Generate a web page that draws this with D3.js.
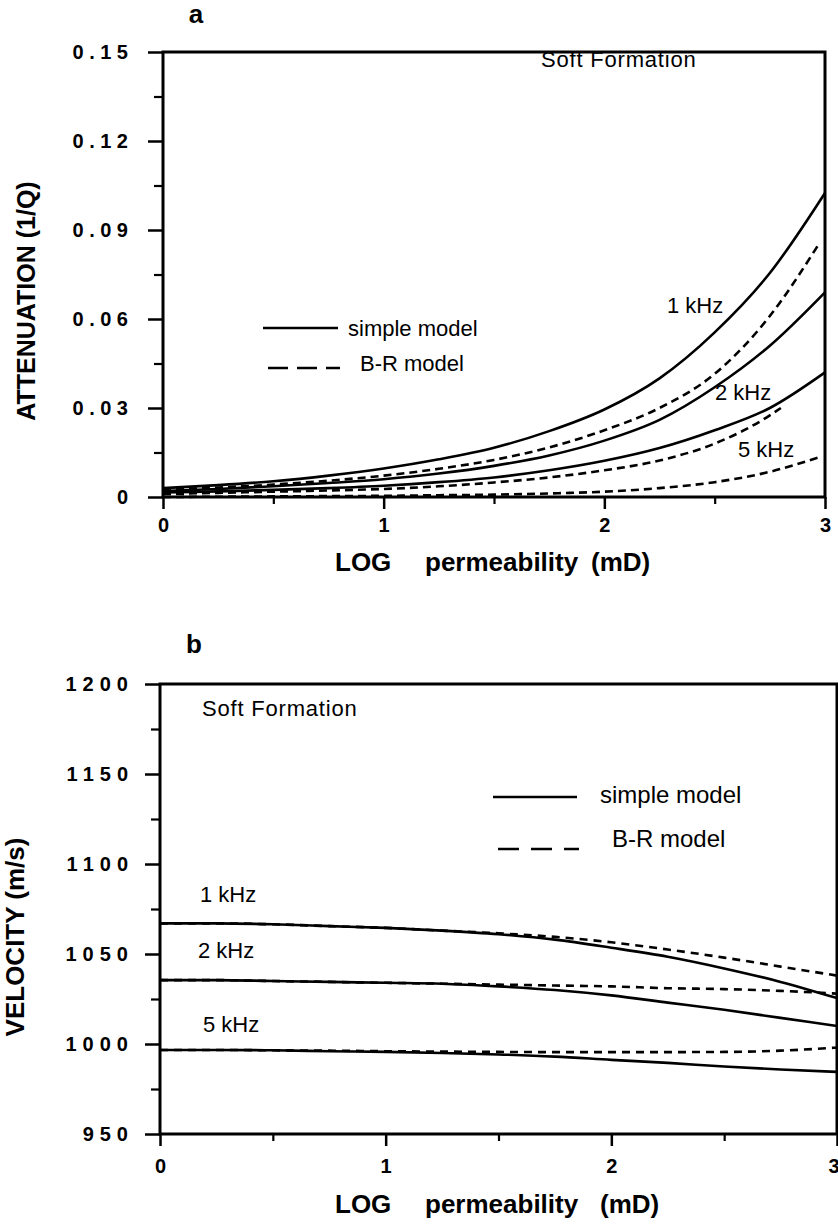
<!DOCTYPE html>
<html><head><meta charset="utf-8">
<script src="https://cdn.jsdelivr.net/npm/d3@7"></script>
<style>
body{margin:0;background:#fff}
svg{display:block;background:#fff}
text{font-family:"Liberation Sans",Arial,Helvetica,sans-serif;fill:#000}
</style></head><body>
<svg id="chart" width="838" height="1227"></svg>
<script>
// log10 permeability (mD) sample points
const logPerm     = [0,0.25,0.5,0.75,1,1.25,1.5,1.75,2,2.25,2.5,2.75,3];
const logPermBR1k = [0,0.25,0.5,0.75,1,1.25,1.5,1.75,2,2.25,2.5,2.75,2.97];
const logPermBR2k = [0,0.25,0.5,0.75,1,1.25,1.5,1.75,2,2.25,2.5,2.75,2.8];
const logPermBR5k = [0,0.25,0.5,0.75,1,1.25,1.5,1.75,2,2.25,2.5,2.75,2.97];

// (a) attenuation 1/Q
const attn1kSimple = [0.003,0.004,0.0053,0.0072,0.0096,0.0127,0.0166,0.0222,0.0295,0.040,0.0555,0.0755,0.1025];
const attn1kBR     = [0.0025,0.0032,0.0042,0.0055,0.0072,0.0095,0.0125,0.0167,0.0225,0.030,0.0415,0.061,0.085];
const attn2kSimple = [0.002,0.0027,0.0036,0.0047,0.006,0.0079,0.0105,0.014,0.019,0.026,0.037,0.051,0.069];
const attn2kBR     = [0.001,0.0014,0.0018,0.0022,0.0027,0.0036,0.0049,0.0066,0.009,0.0123,0.018,0.0275,0.030];
const attn5kSimple = [0.0015,0.0019,0.0024,0.003,0.0038,0.005,0.0066,0.009,0.0122,0.0165,0.0225,0.030,0.042];
const attn5kBR     = [0,0.0001,0.0002,0.0003,0.0004,0.0006,0.0008,0.0012,0.0018,0.003,0.005,0.0085,0.0133];

// (b) velocity m/s
const vel1kSimple = [1067,1067,1066.5,1065.5,1064.5,1063,1061,1058,1053.5,1048.5,1042,1034.5,1025.5];
const vel1kBR     = [1067,1067,1066.5,1065.5,1064.5,1063,1061.5,1059.5,1056.5,1052.5,1048,1043,1038];
const vel2kSimple = [1035.5,1035.5,1035,1034.5,1034,1033.5,1032,1030,1027,1023,1019,1014.5,1010];
const vel2kBR     = [1035.5,1035.5,1035,1034.5,1034,1033.5,1033,1032.5,1032,1031,1030.5,1029.5,1028];
const vel5kSimple = [996.7,996.7,996.5,996,995.6,995,994.2,993,991.2,989.5,987.5,985.8,984.5];
const vel5kBR     = [996.7,996.7,996.5,996.3,996,995.8,995.6,995.5,995.5,995.5,995.6,996.3,998];

// axis ticks
const xTicks = [0,1,2,3];
const xMinor = [0.5,1.5,2.5];
const attnTicks = [0,0.03,0.06,0.09,0.12,0.15];
const attnMinor = [0.015,0.045,0.075,0.105,0.135];
const velTicks = [950,1000,1050,1100,1150,1200];
const velMinor = [975,1025,1075,1125,1175];

const svg = d3.select("#chart");
const zip = (xs, ys) => xs.map((v,i) => [v, ys[i]]);

function panel(o){
  const g = svg.append("g");
  const x = d3.scaleLinear().domain([0,3]).range(o.xr);
  const y = d3.scaleLinear().domain(o.yd).range(o.yr);

  // minor ticks
  g.append("g").attr("transform",`translate(${o.xr[0]},0)`)
    .call(d3.axisLeft(y).tickValues(o.yMinor).tickSize(9).tickFormat(""))
    .call(a=>{a.select(".domain").remove();a.selectAll("line").attr("stroke-width",2.2);});
  g.append("g").attr("transform",`translate(0,${o.yr[0]})`)
    .call(d3.axisBottom(x).tickValues(xMinor).tickSize(7).tickFormat(""))
    .call(a=>{a.select(".domain").remove();a.selectAll("line").attr("stroke-width",2.2);});

  // major y ticks
  g.append("g").attr("transform",`translate(${o.xr[0]},0)`)
    .call(d3.axisLeft(y).tickValues(o.yTicks).tickSize(15).tickFormat(o.yFmt))
    .call(a=>{
      a.select(".domain").remove();
      a.selectAll("line").attr("stroke-width",2.5);
      a.selectAll("text").attr("x",o.yLabX).attr("font-size",20).attr("font-weight","bold")
        .style("letter-spacing",o.ls+"px").attr("fill","#000");
    });
  // major x ticks
  g.append("g").attr("transform",`translate(0,${o.yr[0]})`)
    .call(d3.axisBottom(x).tickValues(xTicks).tickSize(12).tickFormat(d3.format("d")))
    .call(a=>{
      a.select(".domain").remove();
      a.selectAll("line").attr("stroke-width",2.5);
      a.selectAll("text").attr("y",o.xLabY).attr("font-size",20).attr("font-weight","bold").attr("fill","#000");
      if(o.lastEnd) a.selectAll("text").filter(d=>d===3).attr("text-anchor","end").attr("x",2);
    });

  // frame
  g.append("rect").attr("x",o.xr[0]).attr("y",o.yr[1])
    .attr("width",o.xr[1]-o.xr[0]).attr("height",o.yr[0]-o.yr[1])
    .attr("fill","none").attr("stroke","#000").attr("stroke-width",3);

  const line = d3.line().x(d=>x(d[0])).y(d=>y(d[1])).curve(d3.curveMonotoneX);
  o.series.forEach(s=>{
    g.append("path").attr("d",line(zip(s.x,s.v)))
      .attr("fill","none").attr("stroke","#000").attr("stroke-width",2.6)
      .attr("stroke-dasharray",s.dash?o.dash:null).attr("stroke-linecap","butt");
  });
  return {g,x,y};
}

// ---------- panel a ----------
panel({
  xr:[163,825], yr:[497,52], yd:[0,0.15],
  yTicks:attnTicks, yMinor:attnMinor, yFmt:d=>d===0?"0":d.toFixed(2),
  ls:5.5, yLabX:-29.5, xLabY:21, dash:"8,5",
  series:[
    {x:logPerm, v:attn1kSimple},
    {x:logPermBR1k, v:attn1kBR, dash:true},
    {x:logPerm, v:attn2kSimple},
    {x:logPermBR2k, v:attn2kBR, dash:true},
    {x:logPerm, v:attn5kSimple},
    {x:logPermBR5k, v:attn5kBR, dash:true}
  ]
});

// ---------- panel b ----------
panel({
  xr:[160,837], yr:[1134,684], yd:[950,1200],
  yTicks:velTicks, yMinor:velMinor, yFmt:d3.format("d"),
  ls:6, yLabX:-26, xLabY:25, dash:"8,6", lastEnd:true,
  series:[
    {x:logPerm, v:vel1kSimple},
    {x:logPerm, v:vel1kBR, dash:true},
    {x:logPerm, v:vel2kSimple},
    {x:logPerm, v:vel2kBR, dash:true},
    {x:logPerm, v:vel5kSimple},
    {x:logPerm, v:vel5kBR, dash:true}
  ]
});

function txt(x,y,s,size,bold,extra){
  const t = svg.append("text").attr("x",x).attr("y",y).attr("font-size",size).text(s);
  if(bold) t.attr("font-weight","bold");
  if(extra) extra(t);
  return t;
}

// panel letters
txt(196,23,"a",26,true,t=>t.attr("text-anchor","middle"));
txt(194,653,"b",26,true,t=>t.attr("text-anchor","middle"));

// axis titles
txt(0,0,"ATTENUATION (1/Q)",25,true,t=>t.attr("text-anchor","middle")
  .attr("transform","translate(35,301) rotate(-90)"));
txt(0,0,"VELOCITY (m/s)",26,true,t=>t.attr("text-anchor","middle")
  .attr("transform","translate(24,937) rotate(-90)"));
[[571,591],[1213,600]].forEach(([yy,mx])=>{
  txt(335,yy,"LOG",26,true);
  txt(425,yy,"permeability",26,true);
  txt(mx,yy,"(mD)",26,true);
});

// annotations
txt(541,67,"Soft Formation",22,false,t=>t.style("letter-spacing","0.8px"));
txt(202,716,"Soft Formation",22,false,t=>t.style("letter-spacing","0.8px"));

txt(667,313,"1 kHz",22);
txt(715,400,"2 kHz",22);
txt(738,457,"5 kHz",22);
txt(200,902,"1 kHz",22);
txt(198,958,"2 kHz",22);
txt(203,1032,"5 kHz",22);

// legends
function legend(x1,x2,y1,y2,tx,ty1,ty2,size,dash){
  svg.append("line").attr("x1",x1).attr("x2",x2).attr("y1",y1).attr("y2",y1)
    .attr("stroke","#000").attr("stroke-width",2.4);
  svg.append("line").attr("x1",x1+5).attr("x2",x2+2).attr("y1",y2).attr("y2",y2)
    .attr("stroke","#000").attr("stroke-width",2.4).attr("stroke-dasharray",dash);
  txt(tx,ty1,"simple model",size);
  txt(tx+12,ty2,"B-R model",size);
}
legend(263,338,328,368,348,336,371,22,"20,9");
legend(493,577,797,849,600,803,847,24,"21,12");
</script>
</body></html>
